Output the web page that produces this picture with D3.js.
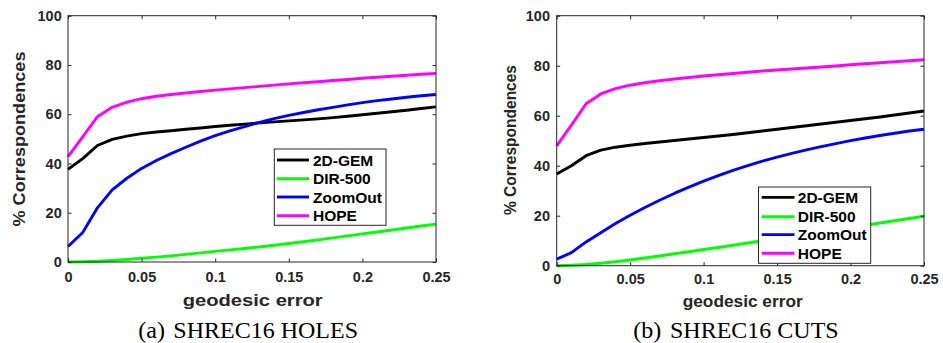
<!DOCTYPE html>
<html>
<head>
<meta charset="utf-8">
<script src="https://cdn.jsdelivr.net/npm/d3@7"></script>
<style>
  body { margin: 0; background: #fff; }
  svg { display: block; }
</style>
</head>
<body>
<div id="chart"></div>
<script>
// geodesic error thresholds (x values shared by every curve)
const thresholds = [0, 0.01, 0.02, 0.03, 0.04, 0.05, 0.06, 0.07, 0.08, 0.09, 0.10, 0.11, 0.12,
  0.13, 0.14, 0.15, 0.16, 0.17, 0.18, 0.19, 0.20, 0.21, 0.22, 0.23, 0.24, 0.25];

const methods = ["2D-GEM", "DIR-500", "ZoomOut", "HOPE"];
const colors = ["#000000", "#00ff00", "#0000ff", "#ff00ff"];

// (a) SHREC16 HOLES
const holesGem = [37.6, 42.0, 47.3, 49.8, 51.1, 52.1, 52.8, 53.3, 53.9, 54.4, 55.0, 55.5, 56.0,
  56.5, 56.9, 57.3, 57.7, 58.1, 58.6, 59.2, 59.8, 60.4, 61.0, 61.6, 62.3, 63.0];
const holesDir = [0, 0.1, 0.3, 0.6, 1.0, 1.5, 2.0, 2.5, 3.1, 3.7, 4.3, 4.9, 5.5,
  6.1, 6.8, 7.5, 8.2, 9.0, 9.8, 10.6, 11.4, 12.2, 13.0, 13.8, 14.6, 15.4];
const holesZoom = [6.3, 12.0, 22.0, 29.3, 34.0, 38.0, 41.2, 44.0, 46.6, 49.1, 51.3, 53.2, 55.0,
  56.7, 58.2, 59.5, 60.7, 61.8, 62.8, 63.8, 64.7, 65.5, 66.2, 66.9, 67.5, 68.0];
const holesHope = [42.8, 50.8, 59.0, 62.8, 64.9, 66.3, 67.3, 68.0, 68.6, 69.2, 69.8, 70.3, 70.8,
  71.3, 71.8, 72.3, 72.8, 73.2, 73.7, 74.1, 74.6, 75.0, 75.4, 75.8, 76.2, 76.6];

// (b) SHREC16 CUTS
const cutsGem = [36.7, 40.0, 44.0, 46.2, 47.4, 48.2, 48.9, 49.5, 50.1, 50.7, 51.3, 51.9, 52.5,
  53.2, 53.9, 54.6, 55.3, 56.0, 56.7, 57.4, 58.1, 58.8, 59.5, 60.3, 61.1, 61.9];
const cutsDir = [0, 0.2, 0.5, 1.0, 1.6, 2.3, 3.1, 3.9, 4.8, 5.6, 6.5, 7.3, 8.2,
  9.1, 10.0, 10.9, 11.7, 12.6, 13.5, 14.4, 15.3, 16.2, 17.1, 18.0, 18.9, 19.8];
const cutsZoom = [2.6, 5.2, 9.5, 13.2, 16.9, 20.2, 23.3, 26.2, 28.9, 31.4, 33.8, 36.0, 38.1,
  40.0, 41.8, 43.4, 44.9, 46.3, 47.6, 48.8, 50.0, 51.1, 52.1, 53.0, 53.9, 54.6];
const cutsHope = [47.9, 56.2, 64.8, 68.7, 70.8, 72.2, 73.2, 74.0, 74.7, 75.3, 75.9, 76.4, 76.9,
  77.4, 77.9, 78.3, 78.7, 79.1, 79.5, 79.9, 80.4, 80.8, 81.2, 81.6, 82.0, 82.4];

const xTicks = [0, 0.05, 0.1, 0.15, 0.2, 0.25];
const xTickLabels = ["0", "0.05", "0.1", "0.15", "0.2", "0.25"];
const yTicks = [0, 20, 40, 60, 80, 100];

const width = 943, height = 343;
const axisColor = "#262626";

const svg = d3.select("#chart").append("svg")
  .attr("width", width)
  .attr("height", height)
  .style("font-family", "'Liberation Sans', Arial, sans-serif");

svg.append("rect").attr("width", width).attr("height", height).attr("fill", "#fff");

const panels = [
  {
    series: [holesGem, holesDir, holesZoom, holesHope],
    caption: "SHREC16 HOLES", tag: "(a)",
    x0: 68, x1: 436, y0: 262, y1: 15.7,
    xPad: 9.7, yPad: 6.3,
    xLab: { x: 252.7, y: 305.7, len: 140 },
    yLab: { x: 25, y: 139, len: 175 },
    legend: { x: 274.3, y: 149, w: 111.7, h: 76.3, rows: [160, 178.7, 197, 215.7], lx0: 277, lx1: 309, tx: 313 },
    cap: { tagX: 138.3, x: 173.3, y: 338 }
  },
  {
    series: [cutsGem, cutsDir, cutsZoom, cutsHope],
    caption: "SHREC16 CUTS", tag: "(b)",
    x0: 556.7, x1: 924, y0: 265.7, y1: 15.7,
    xPad: 8.5, yPad: 6.7,
    xLab: { x: 742.7, y: 306.7, len: 120 },
    yLab: { x: 515.5, y: 140, len: 150 },
    legend: { x: 758.5, y: 187, w: 112.2, h: 76.3, rows: [197.4, 216.7, 234.6, 253.3], lx0: 761.7, lx1: 794.5, tx: 797.8 },
    cap: { tagX: 633.3, x: 670, y: 338 }
  }
];

panels.forEach(p => {
  const x = d3.scaleLinear().domain([0, 0.25]).range([p.x0, p.x1]);
  const y = d3.scaleLinear().domain([0, 100]).range([p.y0, p.y1]);
  const g = svg.append("g");

  // curves
  const line = d3.line()
    .x((d, i) => x(thresholds[i]))
    .y(d => y(d));
  p.series.forEach((s, k) => {
    g.append("path")
      .datum(s)
      .attr("fill", "none")
      .attr("stroke", colors[k])
      .attr("stroke-width", 2.9)
      .attr("stroke-linejoin", "round")
      .attr("d", line);
  });

  // axes: ticks point inward, box drawn separately
  const bottom = g.append("g").attr("transform", `translate(0,${p.y0})`)
    .call(d3.axisBottom(x).tickValues(xTicks).tickFormat((d, i) => xTickLabels[i])
      .tickSizeInner(-3.5).tickSizeOuter(0).tickPadding(p.xPad));
  const left = g.append("g").attr("transform", `translate(${p.x0},0)`)
    .call(d3.axisLeft(y).tickValues(yTicks).tickSizeInner(-3.5).tickSizeOuter(0).tickPadding(p.yPad));
  const top = g.append("g").attr("transform", `translate(0,${p.y1})`)
    .call(d3.axisTop(x).tickValues(xTicks).tickFormat("").tickSizeInner(-3.5).tickSizeOuter(0));
  const right = g.append("g").attr("transform", `translate(${p.x1},0)`)
    .call(d3.axisRight(y).tickValues(yTicks).tickFormat("").tickSizeInner(-3.5).tickSizeOuter(0));

  [bottom, left, top, right].forEach(a => {
    a.select(".domain").remove();
    a.selectAll("line").attr("stroke", axisColor);
    a.selectAll("text")
      .attr("fill", axisColor)
      .style("font-size", "14.5px")
      .style("font-weight", "bold")
      .style("font-family", "'Liberation Sans', Arial, sans-serif");
  });

  g.append("rect")
    .attr("x", p.x0).attr("y", p.y1)
    .attr("width", p.x1 - p.x0).attr("height", p.y0 - p.y1)
    .attr("fill", "none")
    .attr("stroke", axisColor)
    .attr("stroke-width", 1);

  // axis titles
  g.append("text")
    .attr("x", p.xLab.x - p.xLab.len / 2).attr("y", p.xLab.y)
    .attr("textLength", p.xLab.len).attr("lengthAdjust", "spacingAndGlyphs")
    .attr("fill", axisColor)
    .style("font-size", "17px").style("font-weight", "bold")
    .text("geodesic error");

  g.append("text")
    .attr("transform", `translate(${p.yLab.x},${p.yLab.y + p.yLab.len / 2}) rotate(-90)`)
    .attr("textLength", p.yLab.len).attr("lengthAdjust", "spacingAndGlyphs")
    .attr("fill", axisColor)
    .style("font-size", "17px").style("font-weight", "bold")
    .text("% Correspondences");

  // legend
  const L = p.legend;
  g.append("rect")
    .attr("x", L.x).attr("y", L.y).attr("width", L.w).attr("height", L.h)
    .attr("fill", "#fff").attr("stroke", axisColor).attr("stroke-width", 1);
  methods.forEach((m, k) => {
    g.append("line")
      .attr("x1", L.lx0).attr("x2", L.lx1)
      .attr("y1", L.rows[k]).attr("y2", L.rows[k])
      .attr("stroke", colors[k]).attr("stroke-width", 2.9);
    g.append("text")
      .attr("x", L.tx).attr("y", L.rows[k]).attr("dy", "0.36em")
      .attr("fill", "#000")
      .style("font-size", "15.5px").style("font-weight", "bold")
      .text(m);
  });

  // caption
  g.append("text")
    .attr("x", p.cap.tagX).attr("y", p.cap.y)
    .style("font-family", "'Liberation Serif', 'Times New Roman', serif")
    .style("font-size", "24px")
    .text(p.tag);
  g.append("text")
    .attr("x", p.cap.x).attr("y", p.cap.y)
    .style("font-family", "'Liberation Serif', 'Times New Roman', serif")
    .style("font-size", "24px")
    .text(p.caption);
});
</script>
</body>
</html>
